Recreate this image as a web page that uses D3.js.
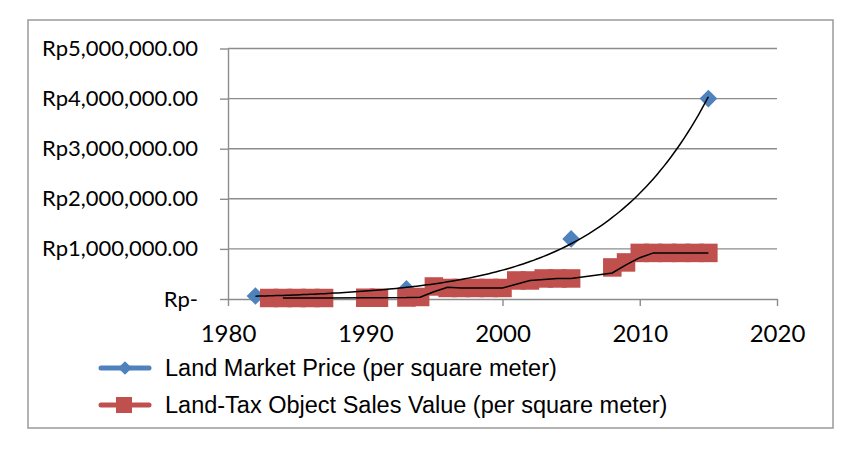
<!DOCTYPE html>
<html>
<head>
<meta charset="utf-8">
<script src="https://cdn.jsdelivr.net/npm/d3@7"></script>
<style>
body { margin: 0; background: #fff; }
</style>
</head>
<body>
<div id="chart-area"></div>
<script>
// Land market price (blue diamonds)
var priceYears = [1982, 1993, 2005, 2015];
var priceValues = [60000, 200000, 1200000, 4000000];

// Land-tax object sales value (red squares)
var njopYears = [1983, 1984, 1985, 1986, 1987, 1990, 1991, 1993, 1994,
    1995, 1996, 1997, 1998, 1999, 2000, 2001, 2002, 2003, 2004, 2005,
    2008, 2009, 2010, 2011, 2012, 2013, 2014, 2015];
var njopValues = [20000, 20000, 20000, 20000, 20000, 25000, 25000, 30000, 40000,
    250000, 220000, 220000, 220000, 220000, 220000, 370000, 370000, 410000, 410000, 410000,
    630000, 730000, 920000, 920000, 920000, 920000, 920000, 920000];

var xTicks = [1980, 1990, 2000, 2010, 2020];
var yTicks = [0, 1000000, 2000000, 3000000, 4000000, 5000000];
var seriesNames = ["Land Market Price (per square meter)",
    "Land-Tax Object Sales Value (per square meter)"];

var W = 859, H = 456;
var blue = "#4f81bd", red = "#c0504d", grid = "#8c8c8c";

var svg = d3.select("#chart-area")
    .append("svg")
    .attr("width", W)
    .attr("height", H);

// chart border
svg.append("rect")
    .attr("x", 28).attr("y", 20)
    .attr("width", 805).attr("height", 408)
    .attr("fill", "#fff")
    .attr("stroke", "#a0a0a0")
    .attr("stroke-width", 1.6);

var x = d3.scaleLinear().domain([1980, 2020]).range([228, 777]);
var y = d3.scaleLinear().domain([0, 5000000]).range([299, 48.5]);

// gridlines
svg.selectAll(".grid")
    .data(yTicks.slice(1))
    .enter()
    .append("line")
    .attr("class", "grid")
    .attr("x1", x(1980)).attr("x2", x(2020))
    .attr("y1", d => y(d)).attr("y2", d => y(d))
    .attr("stroke", grid)
    .attr("stroke-width", 1.4);

var yAxis = d3.axisLeft(y)
    .tickValues(yTicks)
    .tickSize(8)
    .tickSizeOuter(0)
    .tickFormat(d => d === 0 ? "Rp-" : "Rp" + d3.format(",.2f")(d));

var gy = svg.append("g")
    .attr("transform", "translate(" + x(1980) + ",0)")
    .call(yAxis);
gy.select(".domain").attr("stroke", grid).attr("stroke-width", 1.4);
gy.selectAll(".tick line").attr("stroke", grid).attr("stroke-width", 1.4);
gy.selectAll("text")
    .attr("x", -30)
    .attr("fill", "#000")
    .style("font-family", "Lato, 'Open Sans', sans-serif")
    .style("font-size", "22px");

var xAxis = d3.axisBottom(x)
    .tickValues(xTicks)
    .tickSize(7)
    .tickSizeOuter(0)
    .tickFormat(d3.format("d"));

var gx = svg.append("g")
    .attr("transform", "translate(0," + y(0) + ")")
    .call(xAxis);
gx.select(".domain").attr("stroke", grid).attr("stroke-width", 1.4);
gx.selectAll(".tick line").attr("stroke", grid).attr("stroke-width", 1.4);
gx.selectAll("text")
    .attr("y", 43)
    .attr("dy", null)
    .attr("fill", "#000")
    .style("font-family", "Lato, 'Open Sans', sans-serif")
    .style("font-size", "24px");

var price = priceYears.map((d, i) => ({ year: d, value: priceValues[i] }));
var njop = njopYears.map((d, i) => ({ year: d, value: njopValues[i] }));

// blue diamonds
var diamond = d3.symbol().type(d3.symbolDiamond2).size(200);
svg.selectAll(".price")
    .data(price)
    .enter()
    .append("path")
    .attr("class", "price")
    .attr("d", diamond)
    .attr("transform", d => "translate(" + x(d.year) + "," + y(d.value) + ")")
    .attr("fill", blue);

// red squares
var sq = 18.5;
svg.selectAll(".njop")
    .data(njop)
    .enter()
    .append("rect")
    .attr("class", "njop")
    .attr("x", d => x(d.year) - sq / 2)
    .attr("y", d => y(d.value) - sq / 2)
    .attr("width", sq)
    .attr("height", sq)
    .attr("fill", red);

// exponential trendline fitted to the market price
var n = price.length;
var mx = d3.mean(price, d => d.year);
var ml = d3.mean(price, d => Math.log(d.value));
var sxy = d3.sum(price, d => (d.year - mx) * (Math.log(d.value) - ml));
var sxx = d3.sum(price, d => (d.year - mx) * (d.year - mx));
var b = sxy / sxx;
var a = ml - b * mx;
var expFit = d3.range(priceYears[0], priceYears[n - 1] + 0.01, 0.25)
    .map(t => ({ year: t, value: Math.exp(a + b * t) }));

var line = d3.line()
    .x(d => x(d.year))
    .y(d => y(d.value));

svg.append("path")
    .datum(expFit)
    .attr("d", line)
    .attr("fill", "none")
    .attr("stroke", "#000")
    .attr("stroke-width", 1.5);

// 2-period moving average of the sales value
var movAvg = njop.slice(1).map((d, i) => ({ year: d.year, value: (d.value + njop[i].value) / 2 }));
svg.append("path")
    .datum(movAvg)
    .attr("d", line)
    .attr("fill", "none")
    .attr("stroke", "#000")
    .attr("stroke-width", 1.5);

// legend
var legend = svg.append("g");
var rows = [368, 405];

legend.selectAll(".lg-line")
    .data(rows)
    .enter()
    .append("line")
    .attr("x1", 101).attr("x2", 149)
    .attr("y1", d => d).attr("y2", d => d)
    .attr("stroke", (d, i) => i === 0 ? blue : red)
    .attr("stroke-width", 5)
    .attr("stroke-linecap", "round");

legend.append("path")
    .attr("d", d3.symbol().type(d3.symbolDiamond2).size(120))
    .attr("transform", "translate(125," + rows[0] + ")")
    .attr("fill", blue);

legend.append("rect")
    .attr("x", 116).attr("y", rows[1] - 8)
    .attr("width", 16).attr("height", 16)
    .attr("fill", red);

legend.selectAll(".lg-text")
    .data(seriesNames)
    .enter()
    .append("text")
    .attr("x", 165)
    .attr("y", (d, i) => rows[i] + 8)
    .style("font-family", "'Liberation Sans', Arial, sans-serif")
    .style("font-size", "23.5px")
    .attr("fill", "#000")
    .text(d => d);
</script>
</body>
</html>
